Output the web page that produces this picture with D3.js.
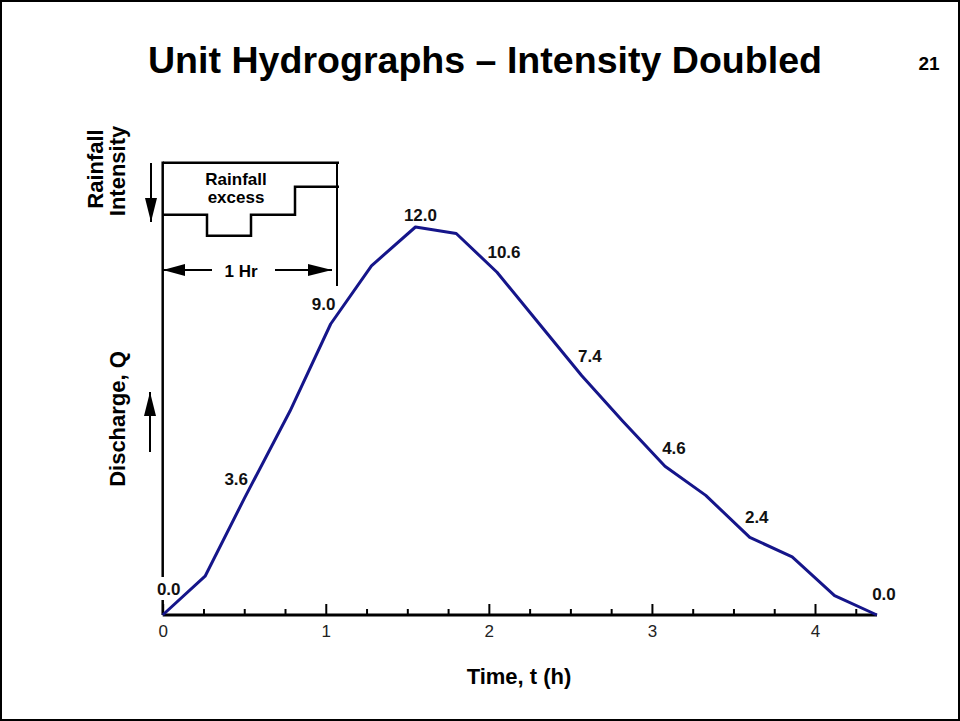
<!DOCTYPE html>
<html>
<head>
<meta charset="utf-8">
<script src="https://cdn.jsdelivr.net/npm/d3@7"></script>
<style>
  html, body { margin: 0; padding: 0; background: #fff; }
  svg { display: block; font-family: "Liberation Sans", Arial, sans-serif; }
</style>
</head>
<body>
<svg id="chart" width="960" height="721"></svg>
<script>
// ---- Data ----
const times = [0, 0.26, 0.5, 0.78, 1.03, 1.28, 1.55, 1.8, 2.05, 2.31, 2.57, 2.82, 3.08, 3.33, 3.6, 3.86, 4.12, 4.38];
const discharge = [0, 1.2, 3.6, 6.3, 9.0, 10.8, 12.0, 11.8, 10.6, 9.0, 7.4, 6.0, 4.6, 3.7, 2.4, 1.8, 0.6, 0.0];
const labelIndex = [0, 2, 4, 6, 8, 10, 12, 14, 17];
const majorTicks = [0, 1, 2, 3, 4];
const minorTicks = [0.25, 0.5, 0.75, 1.25, 1.5, 1.75, 2.25, 2.5, 2.75, 3.25, 3.5, 3.75, 4.25];
const rainTimes = [0, 0.25, 0.5, 0.75, 1.0];
const rainDepth = [5.2, 7.3, 5.2, 2.4, 2.4];

// ---- Layout / style ----
const labelOffsets = [[6, -20], [-8, -14], [-7, -14], [5, -6], [7, -14], [8, -14], [9, -12], [7, -14], [7, -15]];
const lineColor = "#15158a";

const svg = d3.select("#chart");
svg.append("rect").attr("x", 1).attr("y", 1).attr("width", 958).attr("height", 719)
  .attr("fill", "#fff").attr("stroke", "#000").attr("stroke-width", 2);

const x = d3.scaleLinear().domain([0, 4]).range([162.7, 815]);
const y = d3.scaleLinear().domain([0, 12]).range([615, 227]);

// Title
svg.append("text").attr("x", 485).attr("y", 73).attr("text-anchor", "middle")
  .attr("font-size", 36).attr("font-weight", "bold").attr("textLength", 674)
  .attr("lengthAdjust", "spacingAndGlyphs")
  .text("Unit Hydrographs \u2013 Intensity Doubled");
svg.append("text").attr("x", 929).attr("y", 70).attr("text-anchor", "middle")
  .attr("font-size", 19).attr("font-weight", "bold").text("21");

// X axis
const axisG = svg.append("g").attr("transform", `translate(0,${y(0)})`);
axisG.call(d3.axisBottom(x).tickValues(majorTicks).tickSize(-11).tickSizeOuter(0).tickPadding(10).tickFormat(d3.format("d")));
axisG.select(".domain").remove();
axisG.selectAll(".tick line").attr("stroke", "#000").attr("stroke-width", 2);
axisG.selectAll(".tick text").attr("font-size", 17).attr("fill", "#222")
  .attr("font-family", "Liberation Sans, Arial, sans-serif");
const minorG = svg.append("g").attr("transform", `translate(0,${y(0)})`);
minorG.call(d3.axisBottom(x).tickValues(minorTicks).tickSize(-6).tickSizeOuter(0).tickFormat(""));
minorG.select(".domain").remove();
minorG.selectAll(".tick line").attr("stroke", "#000").attr("stroke-width", 2);
svg.append("line").attr("x1", x(0)).attr("x2", x(4.38)).attr("y1", y(0)).attr("y2", y(0))
  .attr("stroke", "#000").attr("stroke-width", 3);

// Left vertical axis (interrupted by 0.0 label)
svg.append("line").attr("x1", x(0)).attr("x2", x(0)).attr("y1", 161.5).attr("y2", 577)
  .attr("stroke", "#000").attr("stroke-width", 2.5);
svg.append("line").attr("x1", x(0)).attr("x2", x(0)).attr("y1", 600).attr("y2", y(0))
  .attr("stroke", "#000").attr("stroke-width", 2.5);

// Hyetograph box
const hx = d3.scaleLinear().domain([0, 1]).range([163, 339]);
const hy = d3.scaleLinear().domain([0, 10]).range([162.7, 262.7]);
svg.append("line").attr("x1", hx(0)).attr("x2", hx(1)).attr("y1", hy(0)).attr("y2", hy(0))
  .attr("stroke", "#000").attr("stroke-width", 2.5);
svg.append("line").attr("x1", 337).attr("x2", 337).attr("y1", hy(0)).attr("y2", 286)
  .attr("stroke", "#000").attr("stroke-width", 2);
const stepLine = d3.line().x((d, i) => hx(rainTimes[i])).y(d => hy(d)).curve(d3.curveStepAfter);
svg.append("path").attr("d", stepLine(rainDepth)).attr("fill", "none")
  .attr("stroke", "#000").attr("stroke-width", 2.5);
svg.append("text").attr("x", 236).attr("y", 185).attr("text-anchor", "middle")
  .attr("font-size", 17).attr("font-weight", "bold").text("Rainfall");
svg.append("text").attr("x", 236).attr("y", 202.5).attr("text-anchor", "middle")
  .attr("font-size", 17).attr("font-weight", "bold").text("excess");

// 1 Hr dimension arrows
function arrow(x1, y1, x2, y2, head, half) {
  svg.append("line").attr("x1", x1).attr("y1", y1).attr("x2", x2).attr("y2", y2)
    .attr("stroke", "#000").attr("stroke-width", 2);
  const dx = x2 - x1, dy = y2 - y1, L = Math.hypot(dx, dy);
  const ux = dx / L, uy = dy / L;
  const bx = x2 - ux * head, by = y2 - uy * head;
  svg.append("path")
    .attr("d", `M${x2},${y2} L${bx - uy * half},${by + ux * half} L${bx + uy * half},${by - ux * half} Z`)
    .attr("fill", "#000");
}
arrow(212, 270, 163, 270, 22, 6);
arrow(275, 270, 332, 270, 24, 6);
svg.append("text").attr("x", 241).attr("y", 277).attr("text-anchor", "middle")
  .attr("font-size", 17).attr("font-weight", "bold").text("1 Hr");

// Vertical direction arrows
arrow(151, 163, 151, 222, 24, 6);
arrow(150, 452, 150, 392, 24, 6);

// Rotated axis titles
function vText(xp, yp, t) {
  svg.append("text").attr("transform", `translate(${xp},${yp}) rotate(-90)`)
    .attr("text-anchor", "middle").attr("font-size", 22).attr("font-weight", "bold").text(t);
}
vText(103, 169, "Rainfall");
vText(125, 171, "Intensity");
vText(125, 419, "Discharge, Q");

// X axis title
svg.append("text").attr("x", 519).attr("y", 684).attr("text-anchor", "middle")
  .attr("font-size", 22).attr("font-weight", "bold").text("Time, t (h)");

// Hydrograph line
const hydro = d3.line().x((d, i) => x(times[i])).y(d => y(d));
svg.append("path").attr("d", hydro(discharge)).attr("fill", "none")
  .attr("stroke", lineColor).attr("stroke-width", 3).attr("stroke-linejoin", "round");

// Point labels
labelIndex.forEach((idx, k) => {
  svg.append("text")
    .attr("x", x(times[idx]) + labelOffsets[k][0])
    .attr("y", y(discharge[idx]) + labelOffsets[k][1])
    .attr("text-anchor", "middle").attr("font-size", 17).attr("font-weight", "bold")
    .attr("fill", "#111")
    .text(discharge[idx].toFixed(1));
});
</script>
</body>
</html>
